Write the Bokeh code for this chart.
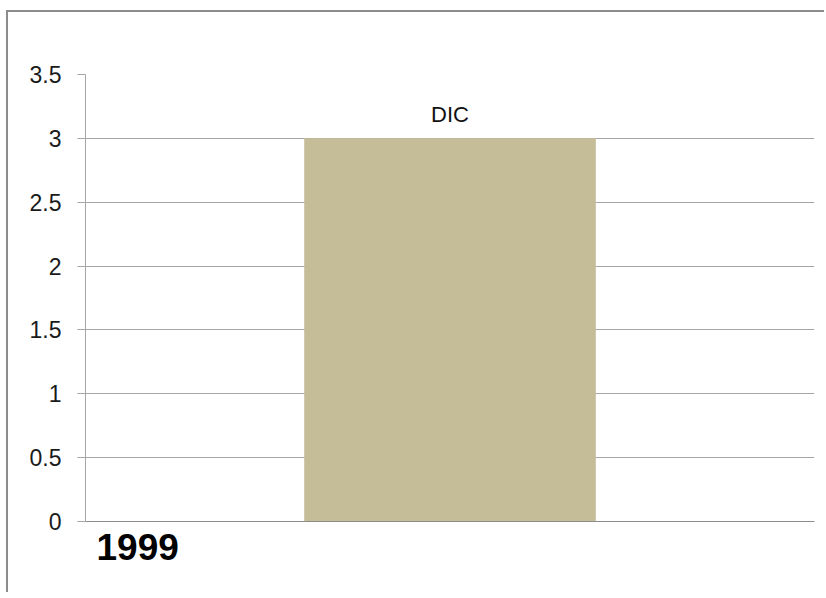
from bokeh.plotting import figure
from bokeh.models import ColumnDataSource, Range1d, FactorRange, FixedTicker, LabelSet, Title
from bokeh.core.properties import value
from bokeh.embed import file_html
from bokeh.resources import INLINE

categories = ["1999"]
series_name = "DIC"
values = [3]
y_ticks = [0, 0.5, 1, 1.5, 2, 2.5, 3, 3.5]
y_tick_labels = ["0", "0.5", "1", "1.5", "2", "2.5", "3", "3.5"]

source = ColumnDataSource(data=dict(
    cat=categories,
    val=values,
    lab=[series_name] * len(categories),
))

p = figure(
    width=818, height=582,
    x_range=FactorRange(factors=categories, range_padding=0),
    y_range=Range1d(0, 3.5),
    output_backend="svg", toolbar_location=None,
    min_border_left=79, min_border_right=10,
    min_border_top=64, min_border_bottom=71,
)
p.styles = {
    "background": ("linear-gradient(#8c8c8c, #8c8c8c) left top / 100% 2px no-repeat, "
                   "linear-gradient(#8c8c8c, #8c8c8c) left top / 2px 100% no-repeat, white"),
    "margin-left": "6px",
    "margin-top": "10px",
}
p.outline_line_color = None
p.background_fill_color = "white"
p.border_fill_color = None

p.vbar(x="cat", top="val", width=0.4, source=source,
       fill_color="#c4bd97", line_color=None)

p.add_layout(LabelSet(x="cat", y="val", text="lab", source=source,
                      y_offset=16, text_align="center", text_baseline="alphabetic",
                      text_font=value("Liberation Sans"), text_font_size=value("22px"),
                      text_color="#111111"))

p.yaxis.ticker = FixedTicker(ticks=y_ticks)
p.yaxis.major_label_overrides = {t: l for t, l in zip(y_ticks, y_tick_labels)}
p.yaxis.major_label_text_font = "Liberation Sans"
p.yaxis.major_label_text_font_size = "23px"
p.yaxis.major_label_text_color = "#1a1a1a"
p.yaxis.major_label_standoff = 16
p.yaxis.major_tick_out = 8
p.yaxis.major_tick_in = 0
p.yaxis.major_tick_line_color = "#a6a6a6"
p.yaxis.minor_tick_line_color = None
p.yaxis.axis_line_color = "#a6a6a6"

p.xaxis.axis_line_color = "#8c8c8c"
p.xaxis.major_tick_line_color = None
p.xaxis.minor_tick_line_color = None
p.xaxis.major_label_text_color = None
p.xaxis.major_label_text_font_size = "1px"
p.xaxis.major_label_standoff = 0

p.xgrid.grid_line_color = None
p.ygrid.grid_line_color = "#a6a6a6"
p.ygrid.ticker = FixedTicker(ticks=y_ticks)

p.add_layout(Title(text=categories[0], align="left", offset=11, standoff=8,
                   text_font="Liberation Sans", text_font_style="bold",
                   text_font_size="37px", text_color="#000000"), "below")

open("out.html", "w").write(file_html(p, INLINE))
